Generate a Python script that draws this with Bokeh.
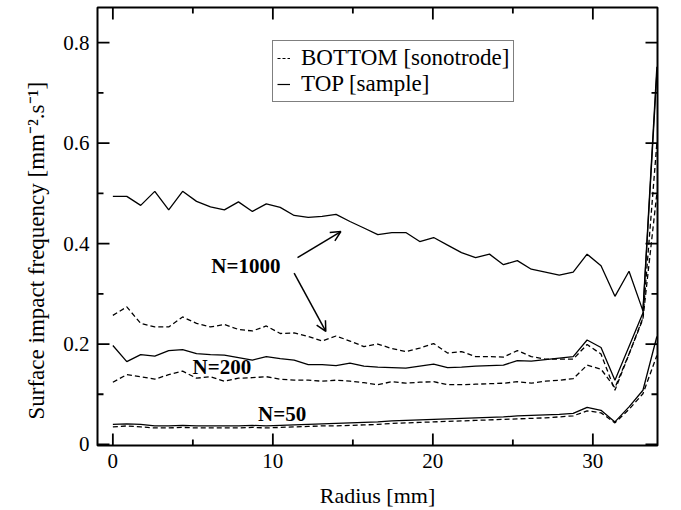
from bokeh.plotting import figure
from bokeh.models import (Range1d, FixedTicker, Legend, LegendItem,
                          Title, Label, Arrow, OpenHead)
from bokeh.embed import file_html
from bokeh.resources import INLINE

# ---- data ----
radius = [0.00, 0.87, 1.74, 2.62, 3.49, 4.36, 5.23, 6.10, 6.97, 7.85,
          8.72, 9.59, 10.46, 11.33, 12.21, 13.08, 13.95, 14.82, 15.69, 16.56,
          17.44, 18.31, 19.18, 20.05, 20.92, 21.79, 22.67, 23.54, 24.41, 25.28,
          26.15, 27.03, 27.90, 28.77, 29.64, 30.51, 31.38, 32.26, 33.13, 34.00]

top_1000 = [0.494, 0.494, 0.476, 0.504, 0.467, 0.504, 0.484, 0.473, 0.467, 0.483,
            0.464, 0.479, 0.472, 0.456, 0.452, 0.454, 0.458, 0.444, 0.431, 0.418,
            0.422, 0.422, 0.404, 0.412, 0.397, 0.382, 0.372, 0.379, 0.358, 0.366,
            0.349, 0.343, 0.337, 0.343, 0.379, 0.356, 0.295, 0.345, 0.266, 0.752]
bottom_1000 = [0.257, 0.274, 0.241, 0.234, 0.234, 0.254, 0.241, 0.234, 0.239, 0.229,
               0.226, 0.236, 0.221, 0.222, 0.215, 0.206, 0.216, 0.206, 0.195, 0.200,
               0.191, 0.185, 0.192, 0.201, 0.182, 0.185, 0.175, 0.175, 0.174, 0.187,
               0.175, 0.170, 0.170, 0.170, 0.199, 0.180, 0.108, 0.180, 0.252, 0.600]
top_200 = [0.197, 0.165, 0.179, 0.176, 0.187, 0.189, 0.181, 0.179, 0.178, 0.173,
           0.168, 0.175, 0.171, 0.168, 0.159, 0.159, 0.157, 0.162, 0.156, 0.154,
           0.153, 0.152, 0.156, 0.160, 0.153, 0.154, 0.156, 0.157, 0.158, 0.167,
           0.166, 0.169, 0.172, 0.175, 0.208, 0.193, 0.128, 0.195, 0.262, 0.740]
bottom_200 = [0.124, 0.139, 0.135, 0.130, 0.139, 0.146, 0.132, 0.135, 0.126, 0.132,
              0.133, 0.135, 0.130, 0.128, 0.128, 0.126, 0.128, 0.126, 0.123, 0.119,
              0.125, 0.122, 0.124, 0.125, 0.119, 0.119, 0.120, 0.121, 0.122, 0.125,
              0.122, 0.126, 0.128, 0.131, 0.158, 0.150, 0.113, 0.180, 0.250, 0.500]
top_50 = [0.040, 0.041, 0.040, 0.037, 0.037, 0.038, 0.037, 0.037, 0.037, 0.037,
          0.038, 0.037, 0.038, 0.039, 0.040, 0.041, 0.042, 0.043, 0.044, 0.045,
          0.047, 0.048, 0.049, 0.050, 0.051, 0.052, 0.053, 0.054, 0.055, 0.057,
          0.058, 0.059, 0.060, 0.062, 0.074, 0.068, 0.045, 0.075, 0.108, 0.215]
bottom_50 = [0.035, 0.037, 0.035, 0.033, 0.033, 0.034, 0.033, 0.033, 0.033, 0.033,
             0.034, 0.033, 0.034, 0.035, 0.036, 0.037, 0.037, 0.038, 0.039, 0.040,
             0.042, 0.043, 0.044, 0.045, 0.046, 0.047, 0.048, 0.049, 0.050, 0.051,
             0.052, 0.053, 0.055, 0.057, 0.067, 0.063, 0.043, 0.070, 0.101, 0.177]

x_major = [0, 10, 20, 30]
x_minor = [5, 15, 25]
y_major = [0, 0.2, 0.4, 0.6, 0.8]
y_minor = [0.1, 0.3, 0.5, 0.7]
y_labels = ["0", "0.2", "0.4", "0.6", "0.8"]

legend_labels = ["BOTTOM [sonotrode]", "TOP [sample]"]
x_title = "Radius [mm]"
y_title = "Surface impact frequency [mm\u207b\u00b2.s\u207b\u00b9]"

FONT = "Liberation Serif"
X0, X1 = -0.96, 34.04
Y0, Y1 = -0.002, 0.87
W, H = 681, 510
BL, BR, BT, BB = 97, 24, 7, 61
NAN = float("nan")

p = figure(width=W, height=H, output_backend="svg", toolbar_location=None,
           x_range=Range1d(X0, X1), y_range=Range1d(Y0, Y1),
           min_border_left=BL, min_border_right=BR, min_border_top=BT,
           min_border_bottom=BB, background_fill_color="white",
           border_fill_color="white", outline_line_color="black",
           outline_line_width=2)
p.xgrid.visible = False
p.ygrid.visible = False

for ax, ticks, minor in [(p.xaxis[0], x_major, x_minor), (p.yaxis[0], y_major, y_minor)]:
    ax.ticker = FixedTicker(ticks=ticks, minor_ticks=minor)
    ax.axis_line_color = None
    ax.major_tick_line_color = None
    ax.minor_tick_line_color = None
    ax.major_tick_in = 0
    ax.major_tick_out = 0
    ax.minor_tick_in = 0
    ax.minor_tick_out = 0
    ax.major_label_text_font = FONT
    ax.major_label_text_font_size = "21px"
    ax.major_label_text_color = "black"
    ax.major_label_standoff = 8

p.yaxis[0].major_label_overrides = {v: s for v, s in zip(y_major, y_labels)}
p.xaxis[0].axis_label = x_title
p.xaxis[0].axis_label_text_font = FONT
p.xaxis[0].axis_label_text_font_size = "22px"
p.xaxis[0].axis_label_text_font_style = "normal"
p.xaxis[0].axis_label_text_color = "black"
p.xaxis[0].axis_label_standoff = 12

# inward tick marks on all four edges, drawn as one broken line
dx = (X1 - X0) / (W - BL - BR)
dy = (Y1 - Y0) / (H - BT - BB)
tx, ty = [], []
for ticks, ln in [(x_major, 12), (x_minor, 6)]:
    for t in ticks:
        tx += [t, t, NAN, t, t, NAN]
        ty += [Y0, Y0 + ln * dy, NAN, Y1, Y1 - ln * dy, NAN]
for ticks, ln in [(y_major, 12), (y_minor, 6)]:
    for t in ticks:
        tx += [X0, X0 + ln * dx, NAN, X1, X1 - ln * dx, NAN]
        ty += [t, t, NAN, t, t, NAN]
p.line(tx, ty, line_color="black", line_width=1.8)

ytitle = Title(text=y_title, align="left", offset=26, text_font=FONT,
               text_font_size="23px", text_font_style="normal",
               text_color="black", vertical_align="middle", standoff=22)
p.add_layout(ytitle, "left")

dash = "5 3"
lw = 1.3
for vals, dashed in [(top_1000, False), (bottom_1000, True),
                     (top_200, False), (bottom_200, True),
                     (top_50, False), (bottom_50, True)]:
    p.line(radius, vals, line_color="black", line_width=lw,
           line_dash=dash if dashed else "solid")

# legend sample renderers (kept outside the visible range)
leg_dash = p.line([-5, -4], [-1, -1], line_color="black", line_width=1.2, line_dash="3 2")
leg_solid = p.line([-5, -4], [-1, -1], line_color="black", line_width=1.2)
legend = Legend(items=[LegendItem(label=legend_labels[0], renderers=[leg_dash]),
                       LegendItem(label=legend_labels[1], renderers=[leg_solid])],
                location=(175, 343), label_text_font=FONT,
                label_text_font_size="23px", label_text_color="black",
                glyph_width=13, glyph_height=20,
                label_height=20, spacing=0, padding=4, label_standoff=11,
                margin=0, border_line_color="black", border_line_width=1.2,
                background_fill_color="white", background_fill_alpha=1.0)
p.add_layout(legend, "center")

for txt, lx, ly in [("N=1000", 8.31, 0.356), ("N=200", 6.81, 0.154), ("N=50", 10.58, 0.0605)]:
    p.add_layout(Label(x=lx, y=ly, text=txt, text_font=FONT, text_font_size="21px",
                       text_font_style="bold", text_align="center",
                       text_baseline="middle", text_color="black"))

for (xa, ya, xb, yb) in [(11.54, 0.372, 14.25, 0.424), (11.33, 0.341, 13.31, 0.225)]:
    p.add_layout(Arrow(x_start=xa, y_start=ya, x_end=xb, y_end=yb,
                       line_color="black", line_width=1.5,
                       end=OpenHead(size=10, line_color="black", line_width=1.5)))

open("out.html", "w").write(file_html(p, INLINE))
